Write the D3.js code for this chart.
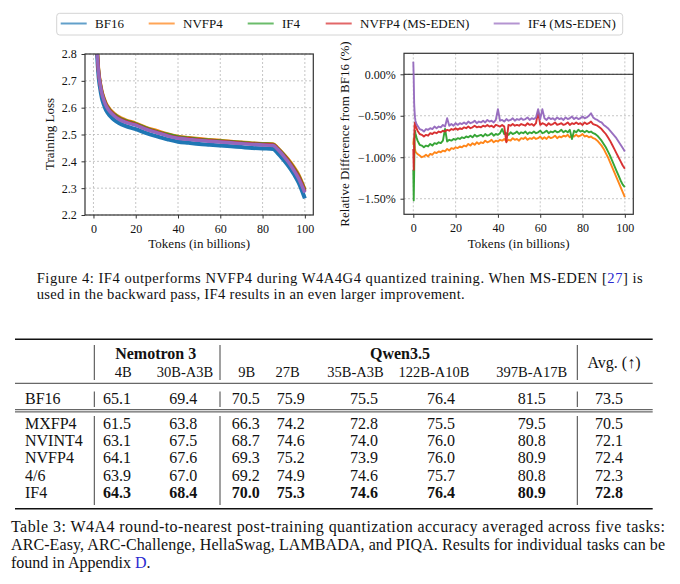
<!DOCTYPE html>
<html><head><meta charset="utf-8">
<script src="https://cdn.jsdelivr.net/npm/d3@7"></script>
<style>body{margin:0;background:#fff}svg{display:block}</style>
</head><body><svg id="c" width="680" height="584"></svg>
<script>
// ---------------- DATA ----------------
const seriesNames = ["BF16","NVFP4","IF4","NVFP4 (MS-EDEN)","IF4 (MS-EDEN)"];
const seriesColors = ["#1f77b4","#ff7f0e","#2ca02c","#d62728","#9467bd"];

const xTickValues = [0,20,40,60,80,100];
const lossTickValues = [2.2,2.3,2.4,2.5,2.6,2.7,2.8];
const diffTickValues = [0,-0.5,-1.0,-1.5];

// Left panel: training loss
const lossTokens = [1.5,2,2.5,3,4,5,6,7,8,10,12,15,20,25,30,35,40,45,50,55,60,65,70,75,80,85,87,90,92,95,97,100];
const lossBF16   = [2.83,2.76,2.71,2.68,2.635,2.61,2.59,2.578,2.568,2.553,2.543,2.532,2.52,2.505,2.493,2.482,2.473,2.469,2.465,2.462,2.459,2.456,2.453,2.45,2.448,2.446,2.432,2.405,2.385,2.35,2.322,2.262];
const lossNVFP4  = [2.86,2.79,2.735,2.705,2.662,2.636,2.616,2.603,2.592,2.577,2.566,2.555,2.542,2.526,2.514,2.502,2.493,2.488,2.484,2.481,2.478,2.474,2.471,2.468,2.466,2.465,2.452,2.427,2.409,2.377,2.352,2.296];
const lossIF4    = [2.855,2.785,2.73,2.70,2.658,2.632,2.612,2.599,2.588,2.574,2.563,2.552,2.54,2.524,2.511,2.50,2.491,2.486,2.482,2.479,2.476,2.473,2.47,2.467,2.465,2.463,2.45,2.425,2.406,2.373,2.347,2.293];
const lossNVFP4MS= [2.85,2.78,2.728,2.698,2.655,2.629,2.609,2.596,2.586,2.571,2.56,2.549,2.537,2.521,2.509,2.497,2.488,2.484,2.48,2.477,2.474,2.471,2.468,2.465,2.463,2.461,2.448,2.422,2.403,2.369,2.343,2.288];
const lossIF4MS  = [2.845,2.775,2.725,2.695,2.652,2.626,2.606,2.593,2.583,2.568,2.557,2.546,2.535,2.519,2.507,2.495,2.486,2.482,2.478,2.475,2.472,2.469,2.466,2.463,2.461,2.459,2.446,2.419,2.399,2.364,2.337,2.283];

// Right panel: relative difference from BF16 (%)
const diffTokens = [0,0.2,0.4,0.6,0.8,1,1.5,
 2,3,4,5,6,7,8,9,10,11,12,13,14,15,16,17,18,19,20,21,22,23,24,25,26,27,28,29,30,31,
 32,33,34,35,36,37,38,39,40,41,42,43,44,45,46,47,48,49,50,51,52,53,54,55,56,57,58,59,60,61,
 62,63,64,65,66,67,68,69,70,71,72,73,74,75,76,77,78,79,80,81,82,83,84,85,86,87,88,89,90,91,
 92,93,94,95,96,97,98,99,100];
const diffNVFP4 = [-0.85,-0.78,-0.80,-0.86,-0.90,-0.93,-0.95,
 -0.96,-0.98,-1.00,-0.99,-0.97,-0.99,-0.96,-0.97,-0.94,-0.95,
 -0.93,-0.94,-0.92,-0.93,-0.90,-0.92,-0.89,-0.90,-0.88,-0.89,
 -0.87,-0.88,-0.86,-0.87,-0.84,-0.86,-0.83,-0.85,-0.82,-0.84,
 -0.82,-0.83,-0.80,-0.82,-0.81,-0.79,-0.82,-0.80,-0.81,-0.79,
 -0.80,-0.78,-0.81,-0.79,-0.80,-0.77,-0.79,-0.78,-0.80,-0.77,
 -0.78,-0.76,-0.79,-0.77,-0.78,-0.76,-0.78,-0.77,-0.75,-0.78,
 -0.76,-0.78,-0.75,-0.77,-0.76,-0.74,-0.77,-0.75,-0.76,-0.74,
 -0.75,-0.73,-0.76,-0.74,-0.75,-0.73,-0.75,-0.74,-0.72,-0.75,
 -0.74,-0.76,-0.75,-0.77,-0.78,-0.80,-0.83,-0.86,-0.90,-0.95,
 -1.00,-1.06,-1.12,-1.18,-1.24,-1.30,-1.36,-1.42,-1.48];
const diffIF4 = [-1.15,-1.52,-1.20,-0.75,-0.68,-0.71,-0.76,
 -0.80,-0.85,-0.86,-0.88,-0.86,-0.87,-0.84,-0.86,-0.83,-0.84,
 -0.82,-0.83,-0.80,-0.66,-0.81,-0.79,-0.80,-0.78,-0.79,-0.77,
 -0.78,-0.76,-0.77,-0.75,-0.76,-0.74,-0.76,-0.73,-0.75,-0.74,
 -0.73,-0.75,-0.72,-0.74,-0.73,-0.71,-0.74,-0.72,-0.73,-0.71,
 -0.66,-0.72,-0.71,-0.73,-0.70,-0.72,-0.71,-0.69,-0.72,-0.70,
 -0.71,-0.69,-0.72,-0.70,-0.71,-0.69,-0.71,-0.70,-0.68,-0.71,
 -0.70,-0.68,-0.71,-0.69,-0.70,-0.68,-0.70,-0.69,-0.67,-0.70,
 -0.68,-0.70,-0.67,-0.78,-0.68,-0.70,-0.67,-0.69,-0.68,-0.70,
 -0.68,-0.70,-0.69,-0.71,-0.72,-0.74,-0.77,-0.80,-0.84,-0.88,
 -0.93,-0.98,-1.04,-1.10,-1.16,-1.22,-1.28,-1.33,-1.36];
const diffNVFP4MS = [-0.90,-1.15,-0.85,-0.62,-0.58,-0.61,-0.65,
 -0.68,-0.72,-0.73,-0.75,-0.73,-0.74,-0.71,-0.72,-0.70,-0.71,
 -0.69,-0.70,-0.68,-0.69,-0.67,-0.68,-0.66,-0.67,-0.65,-0.67,
 -0.65,-0.66,-0.64,-0.65,-0.63,-0.65,-0.64,-0.62,-0.64,-0.63,
 -0.64,-0.62,-0.63,-0.61,-0.63,-0.62,-0.64,-0.61,-0.62,-0.63,
 -0.61,-0.63,-0.82,-0.61,-0.62,-0.60,-0.62,-0.61,-0.62,-0.60,
 -0.61,-0.62,-0.59,-0.61,-0.60,-0.62,-0.59,-0.45,-0.61,-0.59,
 -0.60,-0.62,-0.59,-0.61,-0.60,-0.58,-0.61,-0.60,-0.59,-0.61,
 -0.60,-0.58,-0.61,-0.59,-0.60,-0.58,-0.60,-0.59,-0.61,-0.58,
 -0.60,-0.59,-0.57,-0.60,-0.61,-0.62,-0.64,-0.66,-0.69,-0.72,
 -0.76,-0.80,-0.85,-0.90,-0.95,-1.00,-1.05,-1.10,-1.14];
const diffIF4MS = [0.15,-0.05,-0.35,-0.45,-0.52,-0.56,-0.60,
 -0.62,-0.66,-0.67,-0.69,-0.66,-0.67,-0.65,-0.66,-0.63,-0.65,
 -0.63,-0.64,-0.61,-0.63,-0.53,-0.62,-0.60,-0.62,-0.59,-0.61,
 -0.59,-0.60,-0.58,-0.60,-0.57,-0.59,-0.58,-0.56,-0.59,-0.57,
 -0.58,-0.56,-0.58,-0.55,-0.57,-0.56,-0.58,-0.55,-0.42,-0.56,
 -0.55,-0.57,-0.54,-0.56,-0.55,-0.53,-0.56,-0.54,-0.55,-0.53,
 -0.55,-0.54,-0.52,-0.55,-0.53,-0.54,-0.52,-0.42,-0.54,-0.42,
 -0.53,-0.55,-0.52,-0.54,-0.53,-0.55,-0.52,-0.54,-0.53,-0.55,
 -0.52,-0.54,-0.53,-0.51,-0.54,-0.52,-0.54,-0.53,-0.51,-0.53,
 -0.52,-0.50,-0.47,-0.52,-0.54,-0.55,-0.57,-0.58,-0.61,-0.63,
 -0.65,-0.68,-0.71,-0.74,-0.77,-0.81,-0.85,-0.89,-0.93];

// Table 3
const groupNames = ["Nemotron 3","Qwen3.5"];
const modelNames = ["4B","30B-A3B","9B","27B","35B-A3B","122B-A10B","397B-A17B"];
const avgHeader = "Avg. (\u2191)";
const methodNames = ["BF16","MXFP4","NVINT4","NVFP4","4/6","IF4"];
const accBF16   = [65.1,69.4,70.5,75.9,75.5,76.4,81.5,73.5];
const accMXFP4  = [61.5,63.8,66.3,74.2,72.8,75.5,79.5,70.5];
const accNVINT4 = [63.1,67.5,68.7,74.6,74.0,76.0,80.8,72.1];
const accNVFP4  = [64.1,67.6,69.3,75.2,73.9,76.0,80.9,72.4];
const acc46     = [63.9,67.0,69.2,74.9,74.6,75.7,80.8,72.3];
const accIF4    = [64.3,68.4,70.0,75.3,74.6,76.4,80.9,72.8];
const boldRow = "IF4";

// ---------------- DRAWING ----------------
const FONT = "'Liberation Serif','Times New Roman','DejaVu Serif',serif";
const svg = d3.select("#c");
svg.append("rect").attr("width",680).attr("height",584).attr("fill","#fff");

// Legend
const leg = svg.append("g");
leg.append("rect").attr("x",56.7).attr("y",13.3).attr("width",566).attr("height",21.7)
  .attr("rx",3).attr("fill","#fff").attr("stroke","#d4d4d4").attr("stroke-width",1);
const legTextX = [95,183,282,360,528];
seriesNames.forEach((n,i)=>{
  leg.append("line").attr("x1",legTextX[i]-34.3).attr("x2",legTextX[i]-8.3)
    .attr("y1",23.5).attr("y2",23.5).attr("stroke",seriesColors[i]).attr("stroke-width",2).attr("stroke-opacity",0.7);
  leg.append("text").attr("x",legTextX[i]).attr("y",28.4).text(n)
    .attr("font-family",FONT).attr("font-size",13).attr("fill","#111");
});

function panel(cfg){
  const x = d3.scaleLinear().domain(cfg.xDomain).range([cfg.x0,cfg.x1]);
  const y = d3.scaleLinear().domain(cfg.yDomain).range([cfg.y1,cfg.y0]);
  const g = svg.append("g");
  const clipId = cfg.id+"clip";
  g.append("clipPath").attr("id",clipId).append("rect")
    .attr("x",cfg.x0).attr("y",cfg.y0).attr("width",cfg.x1-cfg.x0).attr("height",cfg.y1-cfg.y0);
  g.selectAll(null).data(xTickValues).join("line")
    .attr("x1",d=>x(d)).attr("x2",d=>x(d)).attr("y1",cfg.y0).attr("y2",cfg.y1)
    .attr("stroke","#b8b8b8").attr("stroke-width",0.8).attr("stroke-dasharray","2,2");
  g.selectAll(null).data(cfg.yTicks).join("line")
    .attr("x1",cfg.x0).attr("x2",cfg.x1).attr("y1",d=>y(d)).attr("y2",d=>y(d))
    .attr("stroke","#b8b8b8").attr("stroke-width",0.8).attr("stroke-dasharray","2,2");
  const ax = g.append("g").attr("transform",`translate(0,${cfg.y1})`)
    .call(d3.axisBottom(x).tickValues(xTickValues).tickSize(3.5).tickPadding(6).tickFormat(d3.format("d")));
  const ay = g.append("g").attr("transform",`translate(${cfg.x0},0)`)
    .call(d3.axisLeft(y).tickValues(cfg.yTicks).tickSize(3.5).tickPadding(4.8).tickFormat(cfg.yFmt));
  [ax,ay].forEach(a=>{
    a.attr("font-family",FONT);
    a.select(".domain").remove();
    a.selectAll("line").attr("stroke","#333").attr("stroke-width",1);
    a.selectAll("text").attr("font-family",FONT).attr("font-size",12).attr("fill","#111");
  });
  const lines = g.append("g").attr("clip-path",`url(#${clipId})`);
  g.append("text").attr("x",(cfg.x0+cfg.x1)/2).attr("y",248.3).attr("text-anchor","middle")
    .attr("font-family",FONT).attr("font-size",13).attr("fill","#111").text("Tokens (in billions)");
  g.append("text").attr("transform",`translate(${cfg.ylabelX},134) rotate(-90)`).attr("text-anchor","middle")
    .attr("font-family",FONT).attr("font-size",13).attr("fill","#111").text(cfg.ylabel);
  return {x,y,g,lines,cfg};
}
function frame(p){
  const c=p.cfg;
  p.g.append("rect").attr("x",c.x0).attr("y",c.y0).attr("width",c.x1-c.x0).attr("height",c.y1-c.y0)
    .attr("fill","none").attr("stroke","#333").attr("stroke-width",1.2);
}

// Left panel
const pL = panel({id:"L",x0:85,x1:313.3,y0:54,y1:215,xDomain:[-4,104],yDomain:[2.2,2.8],
  yTicks:lossTickValues,yFmt:d3.format(".1f"),ylabel:"Training Loss",ylabelX:54});
const lossSeries = [lossBF16,lossNVFP4,lossIF4,lossNVFP4MS,lossIF4MS];
const lineL = d3.line().x(d=>pL.x(d[0])).y(d=>pL.y(d[1])).curve(d3.curveMonotoneX);
lossSeries.forEach((s,i)=>{
  const pts = lossTokens.map((t,k)=>[t,s[k]]).filter(d=>d[1]!=null);
  pL.lines.append("path").attr("d",lineL(pts)).attr("fill","none")
    .attr("stroke",seriesColors[i]).attr("stroke-width",i===0?4:3.4).attr("stroke-linejoin","round");
});
frame(pL);

// Right panel
const pctFmt = d=> (d<0?"\u2212":"") + Math.abs(d).toFixed(2)+"%";
const pR = panel({id:"R",x0:404,x1:633.3,y0:53.3,y1:214.3,xDomain:[-4.4,104],yDomain:[-1.688,0.253],
  yTicks:diffTickValues,yFmt:pctFmt,ylabel:"Relative Difference from BF16 (%)",ylabelX:348.5});
pR.lines.append("line").attr("x1",404).attr("x2",633.3).attr("y1",pR.y(0)).attr("y2",pR.y(0))
  .attr("stroke","#222").attr("stroke-width",1);
const diffSeries = [null,diffNVFP4,diffIF4,diffNVFP4MS,diffIF4MS];
const lineR = d3.line().x(d=>pR.x(d[0])).y(d=>pR.y(d[1]));
diffSeries.forEach((s,i)=>{
  if(!s) return;
  const pts = diffTokens.map((t,k)=>[t,s[k]]).filter(d=>d[1]!=null);
  pR.lines.append("path").attr("d",lineR(pts)).attr("fill","none")
    .attr("stroke",seriesColors[i]).attr("stroke-width",1.9).attr("stroke-opacity",0.95).attr("stroke-linejoin","round");
});
frame(pR);

// Figure caption
const cap1 = svg.append("text").attr("x",36.7).attr("y",282.6).attr("font-family",FONT).attr("font-size",14.6)
  .attr("fill","#111").attr("textLength",606).attr("lengthAdjust","spacing");
cap1.append("tspan").text("Figure 4: IF4 outperforms NVFP4 during W4A4G4 quantized training. When MS-EDEN [");
cap1.append("tspan").attr("fill","#2a2ad0").text("27");
cap1.append("tspan").text("] is");
svg.append("text").attr("x",36.7).attr("y",298.8).attr("font-family",FONT).attr("font-size",14.6)
  .attr("fill","#111").attr("textLength",428).attr("lengthAdjust","spacing")
  .text("used in the backward pass, IF4 results in an even larger improvement.");

// Table
const T = svg.append("g").attr("font-family",FONT).attr("fill","#111");
const tL=15, tR=652.7;
[[339.3,1.4],[383.3,0.8],[409.7,0.8],[411.9,0.8],[508.7,1.4]].forEach(([yy,w])=>{
  T.append("line").attr("x1",tL).attr("x2",tR).attr("y1",yy).attr("y2",yy).attr("stroke","#111").attr("stroke-width",w);
});
const vbarX=[94.3,220,577.3];
[[345,380],[391.5,407],[416,505]].forEach(([a,b])=>{
  vbarX.forEach(vx=>T.append("line").attr("x1",vx).attr("x2",vx).attr("y1",a).attr("y2",b)
    .attr("stroke","#111").attr("stroke-width",0.8));
});
const groupX=[155.7,400];
groupNames.forEach((n,i)=>T.append("text").attr("x",groupX[i]).attr("y",359.3).attr("text-anchor","middle")
  .attr("font-size",16).attr("font-weight","bold").text(n));
const headX=[123.3,185,246.7,287.5,355.5,434,531.7];
modelNames.forEach((n,i)=>T.append("text").attr("x",headX[i]).attr("y",377.3).attr("text-anchor","middle")
  .attr("font-size",14.5).text(n));
T.append("text").attr("x",614).attr("y",368.3).attr("text-anchor","middle").attr("font-size",16).text(avgHeader);
const valX=[117,183.3,245.8,290.7,364,441,531.7,609];
const rowY=[404,429.3,446,463.3,480.7,498.3];
const accRows=[accBF16,accMXFP4,accNVINT4,accNVFP4,acc46,accIF4];
methodNames.forEach((m,r)=>{
  const bold = m===boldRow;
  T.append("text").attr("x",25).attr("y",rowY[r]).attr("font-size",16).text(m);
  accRows[r].forEach((v,c)=>T.append("text").attr("x",valX[c]).attr("y",rowY[r]).attr("text-anchor","middle")
    .attr("font-size",16).attr("font-weight",bold?"bold":"normal").text(d3.format(".1f")(v)));
});

// Table caption
const tc = svg.append("g").attr("font-family",FONT).attr("font-size",16).attr("fill","#111");
tc.append("text").attr("x",11).attr("y",532.3).attr("textLength",654).attr("lengthAdjust","spacing")
  .text("Table 3: W4A4 round-to-nearest post-training quantization accuracy averaged across five tasks:");
tc.append("text").attr("x",11).attr("y",550).attr("textLength",654).attr("lengthAdjust","spacing")
  .text("ARC-Easy, ARC-Challenge, HellaSwag, LAMBADA, and PIQA. Results for individual tasks can be");
const l3 = tc.append("text").attr("x",11).attr("y",567.7);
l3.append("tspan").text("found in Appendix ");
l3.append("tspan").attr("fill","#2a2ad0").text("D");
l3.append("tspan").text(".");
</script></body></html>
